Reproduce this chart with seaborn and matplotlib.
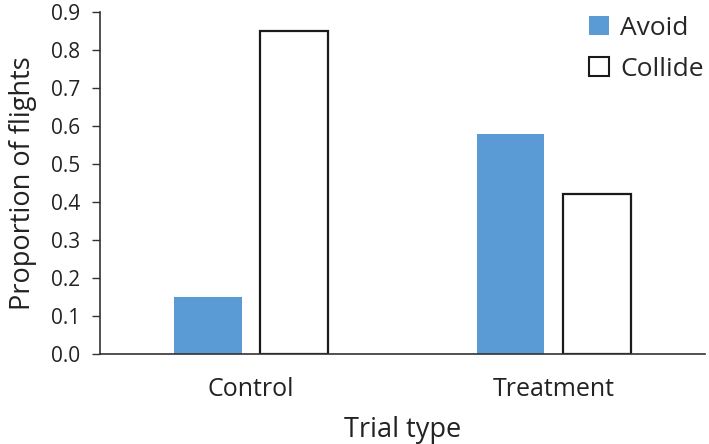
import matplotlib
matplotlib.use("Agg")
import matplotlib.pyplot as plt
from matplotlib.patches import Patch
import pandas as pd
import seaborn as sns

trial_types = ["Control", "Treatment"]
outcomes = ["Avoid", "Collide"]
avoid = [0.15, 0.58]
collide = [0.85, 0.42]

df = pd.DataFrame({
    "trial": trial_types * 2,
    "outcome": ["Avoid"] * 2 + ["Collide"] * 2,
    "prop": avoid + collide,
})

sns.set_style("white")
plt.rcParams["font.family"] = ["Open Sans", "DejaVu Sans"]

fig = plt.figure(figsize=(7.09, 4.44), dpi=100)
ax = fig.add_axes([0.141, 0.203, 0.853, 0.770])

ax = sns.barplot(
    data=df, x="trial", y="prop", hue="outcome", order=trial_types,
    hue_order=outcomes, palette={"Avoid": "#5b9bd5", "Collide": "white"},
    saturation=1, width=0.57, gap=0.214, ax=ax, legend=False,
)
for bar, oc in zip(ax.patches, ["Avoid"] * 2 + ["Collide"] * 2):
    if oc == "Collide":
        bar.set_edgecolor("#1a1a1a")
        bar.set_linewidth(1.6)
    else:
        bar.set_edgecolor("none")

ax.set_ylim(0, 0.9)
ax.set_xlim(-0.5, 1.5)
ax.set_yticks([i / 10 for i in range(10)])
ax.set_yticklabels([f"{i / 10:.1f}" for i in range(10)])
ax.tick_params(axis="y", left=True, direction="out", length=6, width=1,
               color="#333333", labelsize=15, pad=8, labelcolor="#222222")
ax.tick_params(axis="x", bottom=False, labelsize=18, pad=13, labelcolor="#222222")
for s in ["top", "right"]:
    ax.spines[s].set_visible(False)
for s in ["left", "bottom"]:
    ax.spines[s].set_color("#333333")
    ax.spines[s].set_linewidth(1.2)

ax.set_xlabel("Trial type", fontsize=19.5, color="#222222", labelpad=10)
ax.set_ylabel("Proportion of flights", fontsize=19.5, color="#222222", labelpad=10)

handles = [Patch(facecolor="#5b9bd5", edgecolor="none"),
           Patch(facecolor="white", edgecolor="#1a1a1a", linewidth=1.5)]
ax.legend(handles, outcomes, loc="upper right", bbox_to_anchor=(1.025, 1.035),
          frameon=False, fontsize=19, handlelength=0.75, handleheight=0.75,
          handletextpad=0.45, labelspacing=0.6, borderaxespad=0.2)

fig.savefig("out.png", dpi=100)
